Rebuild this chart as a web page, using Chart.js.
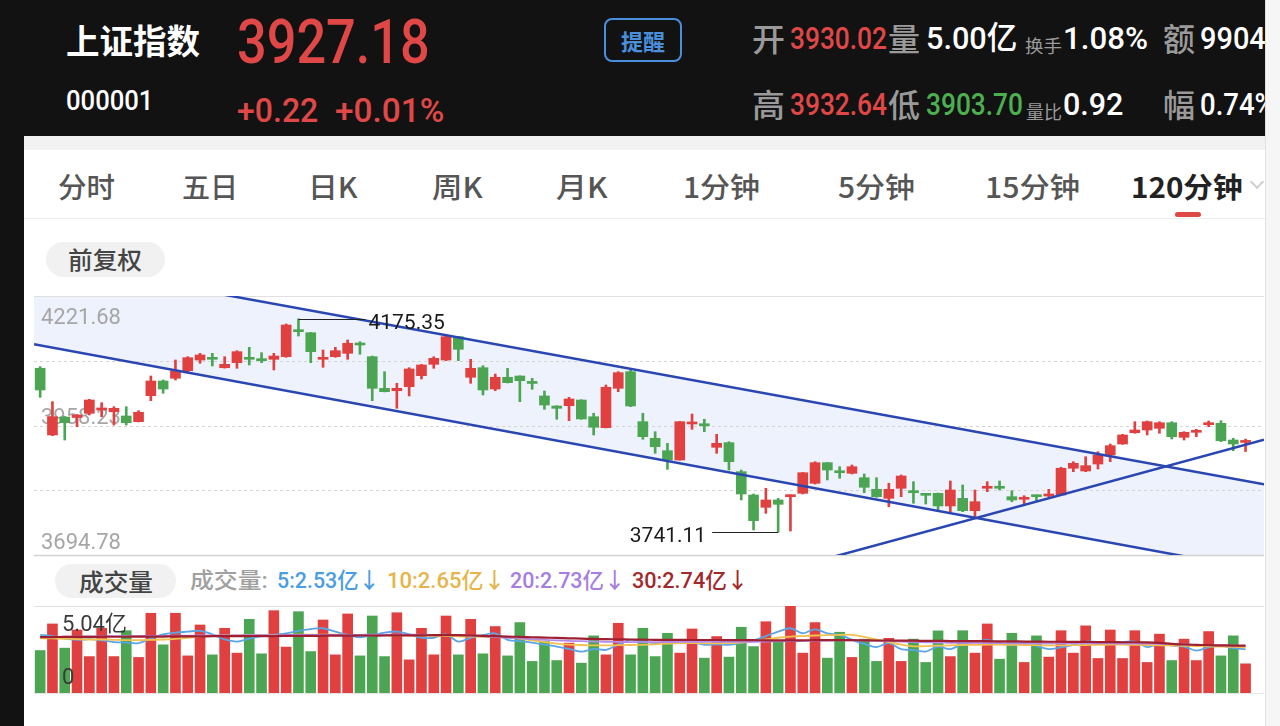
<!DOCTYPE html>
<html><head><meta charset="utf-8">
<script src="https://cdn.jsdelivr.net/npm/chart.js@4.4.1/dist/chart.umd.min.js"></script>
<style>
html,body{margin:0;padding:0;width:1280px;height:726px;overflow:hidden;background:#fff;font-family:Roboto,"Noto Sans CJK SC",sans-serif;}
.abs{position:absolute;}
.t{position:absolute;white-space:nowrap;line-height:1;transform-origin:0 50%;transform:translateY(-50%);}
.cjk{font-family:"Noto Sans CJK SC",sans-serif;}
.num{font-family:Roboto,"Noto Sans CJK SC",sans-serif;font-weight:500;}
.g{font-family:"Noto Sans CJK SC",sans-serif;font-size:32px;color:#9a9a9a;font-weight:500;}
.tab{font-family:"Noto Sans CJK SC",sans-serif;font-size:28px;color:#555;font-weight:500;}
.lg{font-family:Roboto,"Noto Sans CJK SC",sans-serif;font-size:22px;font-weight:500;}
canvas{position:absolute;}
</style></head><body>
<div class="abs" style="left:0;top:0;width:24px;height:726px;background:#121212"></div>
<div class="abs" style="left:0;top:0;width:1265px;height:136px;background:#121212;overflow:hidden">
  <div class="t cjk" style="left:66px;top:40px;font-size:34px;font-weight:700;color:#fff" data-w="134">上证指数</div>
  <div class="t num" style="left:237px;top:42px;font-size:62px;color:#E04848" data-w="193">3927.18</div>
  <div class="t num" style="left:66px;top:101px;font-size:28px;color:#fff" data-w="87">000001</div>
  <div class="t num" style="left:237px;top:110px;font-size:34px;color:#E04848" data-w="81">+0.22</div>
  <div class="t num" style="left:335px;top:110px;font-size:34px;color:#E04848" data-w="109">+0.01%</div>
  <div class="abs" style="left:604px;top:18px;width:74px;height:40px;border:2px solid #4A8FDB;border-radius:8px;"></div>
  <div class="t cjk" style="left:621px;top:40px;font-size:22px;font-weight:700;color:#4A8FDB" data-w="44">提醒</div>

  <div class="t g" style="left:752px;top:37px" data-w="33">开</div>
  <div class="t num" style="left:790px;top:38px;font-size:32px;color:#E04848" data-w="97">3930.02</div>
  <div class="t g" style="left:888px;top:37px" data-w="32">量</div>
  <div class="t num" style="left:926px;top:38px;font-size:32px;color:#fff" data-w="91">5.00亿</div>
  <div class="t cjk" style="left:1025px;top:45px;font-size:18px;color:#9a9a9a" data-w="37">换手</div>
  <div class="t num" style="left:1063px;top:38px;font-size:32px;color:#fff" data-w="85">1.08%</div>
  <div class="t g" style="left:1163px;top:37px" data-w="32">额</div>
  <div class="t num" style="left:1200px;top:38px;font-size:32px;color:#fff" data-w="66">9904</div>

  <div class="t g" style="left:752px;top:103px" data-w="33">高</div>
  <div class="t num" style="left:790px;top:104px;font-size:32px;color:#E04848" data-w="97">3932.64</div>
  <div class="t g" style="left:888px;top:103px" data-w="32">低</div>
  <div class="t num" style="left:926px;top:104px;font-size:32px;color:#4CAF50" data-w="97">3903.70</div>
  <div class="t cjk" style="left:1026px;top:111px;font-size:18px;color:#9a9a9a" data-w="36">量比</div>
  <div class="t num" style="left:1063px;top:104px;font-size:32px;color:#fff" data-w="60">0.92</div>
  <div class="t g" style="left:1163px;top:103px" data-w="32">幅</div>
  <div class="t num" style="left:1200px;top:104px;font-size:32px;color:#fff" data-s="0.86">0.74%</div>
</div>
<div class="abs" style="left:24px;top:136px;width:1241px;height:14px;background:#f2f2f2"></div>
<div class="abs" style="left:1265px;top:0;width:15px;height:726px;background:#f6f6f6;border-left:1px solid #e2e2e2"></div>
<div class="abs" style="left:24px;top:218px;width:1241px;height:1px;background:#eeeeee"></div>

<div class="t tab" style="left:58px;top:186px" data-w="57">分时</div>
<div class="t tab" style="left:182px;top:186px" data-w="56">五日</div>
<div class="t tab" style="left:308px;top:186px" data-w="50">日K</div>
<div class="t tab" style="left:432px;top:186px" data-w="51">周K</div>
<div class="t tab" style="left:556px;top:186px" data-w="52">月K</div>
<div class="t tab" style="left:683px;top:186px" data-w="77">1分钟</div>
<div class="t tab" style="left:838px;top:186px" data-w="77">5分钟</div>
<div class="t tab" style="left:985px;top:186px" data-w="95">15分钟</div>
<div class="t tab" style="left:1131px;top:186px;color:#222;font-weight:700" data-w="112">120分钟</div>
<div class="abs" style="left:1175px;top:212px;width:26px;height:5px;border-radius:3px;background:#E04848"></div>
<div class="abs" style="left:1252px;top:177px;width:8px;height:8px;border-right:2px solid #cfcfcf;border-bottom:2px solid #cfcfcf;transform:rotate(45deg)"></div>

<div class="abs" style="left:46px;top:242px;width:119px;height:35px;border-radius:18px;background:#f1f1f1"></div>
<div class="t cjk" style="left:68px;top:259px;font-size:24px;color:#444;font-weight:500" data-w="74">前复权</div>

<div class="abs" style="left:55px;top:564px;width:121px;height:34px;border-radius:17px;background:#f1f1f1"></div>
<div class="t cjk" style="left:79px;top:581px;font-size:24px;color:#444;font-weight:500" data-w="74">成交量</div>
<div class="t lg" style="left:190px;top:581px;color:#a0a0a0" data-w="78">成交量:</div>
<div class="t lg" id="lg5" style="left:277px;top:581px;color:#4A9DE0" data-w="103"></div>
<div class="t lg" id="lg10" style="left:387px;top:581px;color:#E6B54A" data-w="118"></div>
<div class="t lg" id="lg20" style="left:510px;top:581px;color:#A57EE0" data-w="115"></div>
<div class="t lg" id="lg30" style="left:632px;top:581px;color:#A3282C" data-w="116"></div>

<canvas id="pc" width="1241" height="270" style="left:24px;top:290px"></canvas>
<canvas id="vc" width="1241" height="100" style="left:24px;top:600px"></canvas>

<script>
// ---------- DATA ----------
const open = [4074.6,3938.9,3975.5,3974.5,3983.1,3989.8,3986.3,3977.6,3966.0,4018.9,
4048.8,4054.3,4069.7,4091.5,4096.2,4075.8,4086.0,4094.9,4092.9,4092.9,
4098.2,4152.5,4147.0,4092.9,4098.2,4105.1,4125.5,4098.2,4033.9,4029.0,
4037.2,4059.6,4082.7,4091.5,4138.9,4056.3,4075.8,4032.5,4056.3,4058.9,
4045.3,4018.3,3997.9,3998.5,4010.1,3976.1,3953.8,4033.9,4067.7,3966.0,
3932.2,3907.0,3888.1,3961.3,3960.7,3913.9,3923.3,3864.3,3816.9,3791.8,
3806.7,3813.4,3820.3,3840.7,3882.6,3865.7,3861.0,3852.0,3828.4,3810.1,
3830.5,3823.6,3818.3,3820.3,3794.5,3810.1,3784.9,3830.5,3832.5,3813.4,
3808.1,3815.4,3814.8,3816.9,3871.2,3865.7,3879.9,3898.2,3920.6,3943.6,
3949.1,3952.5,3963.9,3934.2,3944.4,3959.9,3962.7,3928.7,3923.8];
const close = [4030.5,3976.1,3963.9,3979.6,4010.1,3993.8,3993.2,3963.9,3985.1,4048.8,
4032.5,4069.1,4096.2,4101.7,4092.9,4082.7,4108.4,4092.9,4090.1,4099.6,
4162.7,4149.1,4108.4,4094.9,4110.4,4125.5,4122.0,4033.9,4027.0,4033.9,
4073.2,4081.3,4094.9,4138.9,4113.2,4074.6,4030.5,4056.3,4045.3,4049.4,
4043.8,3999.9,3993.2,4012.2,3971.5,3954.6,4036.0,4065.7,3997.9,3935.5,
3915.1,3888.1,3966.0,3963.9,3957.8,3922.0,3884.6,3818.9,3764.6,3806.7,
3797.9,3816.9,3862.2,3882.6,3867.7,3862.2,3874.4,3832.5,3813.4,3828.4,
3855.5,3821.5,3816.2,3794.5,3827.0,3784.9,3803.2,3832.5,3830.5,3806.7,
3810.1,3813.4,3818.9,3871.2,3881.3,3876.5,3898.2,3917.2,3938.9,3949.1,
3966.0,3963.9,3935.5,3944.4,3947.1,3962.7,3927.3,3920.6,3927.18];
const high = [4077.9,4006.7,3976.5,3980.5,4011.5,4004.6,3996.5,3996.5,3988.4,4058.9,
4050.8,4091.5,4098.2,4105.1,4105.1,4098.2,4110.4,4117.3,4106.4,4105.1,
4164.7,4175.35,4147.5,4111.8,4117.3,4132.2,4128.7,4099.6,4067.7,4044.1,
4075.8,4082.7,4098.2,4142.3,4139.5,4092.9,4079.9,4063.0,4074.6,4059.4,
4054.3,4028.4,3998.4,4015.6,4010.6,3983.1,4040.6,4067.7,4071.2,3983.1,
3945.6,3922.0,3966.5,3981.6,3970.9,3940.3,3925.3,3867.7,3818.9,3830.5,
3810.1,3817.5,3862.7,3884.6,3883.1,3874.4,3877.9,3859.6,3852.0,3840.7,
3857.5,3843.9,3818.8,3820.8,3845.3,3837.2,3827.0,3843.9,3845.3,3825.6,
3815.4,3816.9,3828.4,3873.2,3884.6,3894.8,3904.9,3920.6,3940.3,3966.0,
3967.4,3966.0,3966.0,3945.6,3950.5,3967.4,3968.0,3932.2,3930.5];
const low = [4015.6,3937.5,3928.7,3955.8,3979.6,3976.1,3959.3,3959.3,3965.5,4008.7,
4023.8,4050.8,4067.7,4084.8,4079.3,4075.0,4074.6,4081.3,4086.0,4071.2,
4097.0,4140.3,4086.0,4076.6,4097.0,4092.9,4103.1,4008.7,4026.5,3993.2,
4018.3,4052.8,4074.6,4090.1,4090.1,4044.1,4020.3,4029.0,4044.8,4006.7,
4031.9,3991.2,3970.9,3968.0,3971.0,3938.9,3953.3,4027.0,3996.5,3930.2,
3901.7,3869.1,3887.6,3950.5,3945.6,3901.7,3867.7,3806.7,3745.7,3779.6,
3741.11,3743.6,3818.9,3839.2,3847.4,3850.8,3859.6,3821.5,3812.2,3793.1,
3813.4,3800.0,3798.5,3786.3,3782.9,3782.9,3769.5,3823.6,3827.0,3803.2,
3798.5,3803.2,3813.4,3816.4,3864.3,3864.3,3869.7,3884.6,3920.0,3942.4,
3938.9,3942.4,3930.8,3928.7,3935.5,3955.8,3925.3,3907.0,3905.3];
// volume, 亿
const volume = [2.46,4.00,2.60,3.65,2.11,3.75,2.11,3.61,2.06,4.62,
2.79,4.62,2.15,3.94,2.21,3.75,2.31,4.27,2.27,4.77,
2.66,4.71,2.40,4.23,2.21,4.58,2.15,4.46,2.11,4.65,
1.92,3.75,2.21,4.46,2.21,4.27,2.27,3.85,2.15,4.08,
1.83,2.98,1.88,2.89,1.73,3.31,2.21,4.04,2.21,3.75,
2.11,3.46,2.31,3.71,2.02,3.27,2.08,3.81,2.69,4.13,
2.98,5.04,2.31,4.08,2.02,3.52,2.06,3.12,1.83,3.17,
1.83,3.12,1.77,3.60,2.11,3.61,2.31,4.00,1.96,3.46,
1.77,3.31,2.08,3.61,2.31,3.89,2.00,3.65,2.00,3.61,
1.77,3.41,1.88,3.12,1.88,3.56,2.15,3.31,1.69];
const ma5 = [3.37,3.30,3.15,3.08,3.12,3.05,2.95,2.92,2.89,3.15,
3.40,3.50,3.55,3.60,3.40,3.10,2.98,3.15,3.30,3.37,
3.45,3.60,3.70,3.75,3.55,3.35,3.23,3.35,3.50,3.56,
3.40,3.20,3.20,3.40,2.98,3.20,3.35,3.46,3.08,3.00,
2.92,2.80,2.69,2.55,2.40,2.55,2.50,2.80,3.08,2.98,
2.89,2.98,3.08,2.95,2.79,2.82,2.79,2.90,3.05,3.30,
3.55,3.75,3.46,3.69,3.45,3.37,3.08,2.85,2.66,2.89,
2.54,2.48,2.40,2.69,2.54,2.85,2.95,3.08,2.90,2.79,
2.98,2.73,2.54,2.65,2.79,2.98,2.95,2.92,2.95,2.98,
2.66,2.85,2.75,2.69,2.46,2.65,2.73,2.60,2.53];
const ma10 = [3.17,3.16,3.14,3.12,3.10,3.10,3.08,3.06,3.06,3.08,
3.10,3.14,3.20,3.28,3.32,3.33,3.34,3.35,3.36,3.36,
3.37,3.38,3.38,3.38,3.38,3.37,3.36,3.35,3.35,3.34,
3.33,3.32,3.31,3.30,3.28,3.27,3.26,3.25,3.22,3.15,
3.05,2.95,2.86,2.80,2.78,2.76,2.76,2.77,2.78,2.79,
2.82,2.86,2.89,2.89,2.88,2.88,2.89,2.92,3.00,3.10,
3.20,3.27,3.30,3.33,3.35,3.37,3.37,3.25,3.10,2.95,
2.80,2.70,2.72,2.74,2.76,2.78,2.79,2.80,2.80,2.79,
2.78,2.77,2.76,2.76,2.77,2.78,2.79,2.80,2.80,2.79,
2.78,2.76,2.75,2.73,2.72,2.70,2.69,2.67,2.65];
const ma20 = [3.25,3.25,3.26,3.27,3.28,3.28,3.29,3.30,3.30,3.31,
3.31,3.32,3.32,3.33,3.33,3.34,3.34,3.35,3.35,3.35,
3.36,3.36,3.36,3.37,3.37,3.37,3.37,3.38,3.38,3.38,
3.38,3.37,3.37,3.36,3.35,3.32,3.28,3.24,3.20,3.16,
3.12,3.08,3.05,3.02,3.00,2.98,2.97,2.96,2.95,2.95,
2.95,2.95,2.96,2.96,2.97,2.97,2.97,2.97,2.97,2.98,
2.99,3.00,3.02,3.03,3.04,3.05,3.05,3.04,3.02,3.00,
2.98,2.96,2.94,2.92,2.91,2.90,2.90,2.89,2.89,2.88,
2.88,2.88,2.87,2.87,2.87,2.87,2.87,2.87,2.86,2.86,
2.86,2.85,2.83,2.81,2.79,2.77,2.75,2.74,2.73];
const ma30 = [3.24,3.24,3.25,3.25,3.25,3.26,3.26,3.26,3.27,3.27,
3.27,3.28,3.28,3.28,3.29,3.29,3.29,3.30,3.30,3.30,
3.31,3.31,3.31,3.32,3.32,3.32,3.33,3.33,3.33,3.34,
3.34,3.34,3.35,3.35,3.35,3.33,3.31,3.29,3.27,3.25,
3.23,3.21,3.19,3.17,3.15,3.13,3.12,3.11,3.10,3.09,
3.08,3.08,3.08,3.07,3.07,3.07,3.06,3.06,3.06,3.05,
3.05,3.05,3.05,3.06,3.06,3.06,3.06,3.05,3.04,3.04,
3.03,3.03,3.02,3.02,3.01,3.01,3.00,3.00,2.99,2.99,
2.98,2.98,2.97,2.97,2.96,2.96,2.95,2.95,2.94,2.94,
2.93,2.90,2.85,2.81,2.79,2.77,2.76,2.75,2.74];
const priceGrid = [4221.68, 4089.96, 3958.23, 3826.51, 3694.78];
const priceLabels = [4221.68, 3958.23, 3694.78];
const volMax = 5.04;
// user-drawn trend lines (slot index, price)
const channelTop = [{x:-0.5, y:4294.7}, {x:99.5, y:3838.8}];
const channelBottom = [{x:-0.5, y:4123.6}, {x:99.5, y:3662.2}];
const risingLine = [{x:61.8, y:3672.8}, {x:99.5, y:3929.1}];
const slotCount = 100;
const labels = Array.from({length: slotCount}, (_, i) => i < open.length ? String(i + 1) : '');

// ---------- STYLE ----------
const RED = '#E0403F', GREEN = '#4BA553', BLUE = '#2A46B2';
const candleColors = open.map((o, i) => close[i] >= o ? RED : GREEN);
const bodies = open.map((o, i) => [o, close[i]]);
const wicks = low.map((l, i) => [l, high[i]]);

const lastOf = a => a[a.length - 1].toFixed(2);
document.getElementById('lg5').textContent = '5:' + lastOf(ma5) + '亿↓';
document.getElementById('lg10').textContent = '10:' + lastOf(ma10) + '亿↓';
document.getElementById('lg20').textContent = '20:' + lastOf(ma20) + '亿↓';
document.getElementById('lg30').textContent = '30:' + lastOf(ma30) + '亿↓';

function fit() {
  document.querySelectorAll('.t').forEach(el => {
    let s = 1;
    if (el.dataset.w) s = parseFloat(el.dataset.w) / el.offsetWidth;
    else if (el.dataset.s) s = parseFloat(el.dataset.s);
    el.style.transform = 'translateY(-50%) scaleX(' + s + ')';
  });
}
fit();
if (document.fonts && document.fonts.ready) document.fonts.ready.then(fit);

const priceDecor = {
  id: 'priceDecor',
  beforeDatasetsDraw(chart) {
    const {ctx, chartArea: a, scales: {y}} = chart;
    ctx.save();
    priceGrid.forEach((v, i) => {
      const py = Math.round(y.getPixelForValue(v)) + 0.5;
      const edge = i === 0 || i === priceGrid.length - 1;
      ctx.beginPath();
      ctx.setLineDash(edge ? [] : [3, 3]);
      ctx.strokeStyle = edge ? (i === 0 ? '#e0e0e0' : '#d2d2d2') : '#d4d4d4';
      ctx.lineWidth = edge && i !== 0 ? 1.5 : 1;
      ctx.moveTo(a.left, py); ctx.lineTo(a.right, py); ctx.stroke();
    });
    ctx.setLineDash([]);
    ctx.font = '22px Roboto';
    ctx.fillStyle = '#a6a6a6';
    ctx.textBaseline = 'middle';
    ctx.textAlign = 'left';
    const shift = [22, -7, -12];
    priceLabels.forEach((v, i) => {
      ctx.fillText(v.toFixed(2), a.left + 7, y.getPixelForValue(v) + shift[i]);
    });
    ctx.restore();
  },
  afterDatasetsDraw(chart) {
    const {ctx, scales: {x, y}} = chart;
    const hi = Math.max(...high), lo = Math.min(...low);
    const hiIdx = high.indexOf(hi), loIdx = low.indexOf(lo);
    ctx.save();
    ctx.strokeStyle = '#222'; ctx.lineWidth = 1;
    ctx.fillStyle = '#1a1a1a'; ctx.font = '21px Roboto'; ctx.textBaseline = 'middle';
    const hx = x.getPixelForValue(hiIdx), hy = Math.round(y.getPixelForValue(hi)) + 0.5;
    ctx.beginPath(); ctx.moveTo(hx, hy); ctx.lineTo(hx + 67, hy); ctx.stroke();
    ctx.textAlign = 'left';
    ctx.fillText(hi.toFixed(2), hx + 70, hy + 4);
    const lx = x.getPixelForValue(loIdx), ly = Math.round(y.getPixelForValue(lo)) + 0.5;
    ctx.beginPath(); ctx.moveTo(lx, ly); ctx.lineTo(lx - 66, ly); ctx.stroke();
    ctx.textAlign = 'right';
    ctx.fillText(lo.toFixed(2), lx - 72, ly + 4);
    ctx.restore();
  }
};

new Chart(document.getElementById('pc'), {
  type: 'bar',
  data: {
    labels,
    datasets: [
      {type: 'line', data: channelTop, xAxisID: 'xt', yAxisID: 'y', borderColor: BLUE, borderWidth: 2.5, pointRadius: 0, fill: false, order: 0},
      {type: 'line', data: channelBottom, xAxisID: 'xt', yAxisID: 'y', borderColor: BLUE, borderWidth: 2.5, pointRadius: 0, fill: '-1', backgroundColor: '#EDF2FC', order: 0},
      {type: 'line', data: risingLine, xAxisID: 'xt', yAxisID: 'y', borderColor: BLUE, borderWidth: 2.5, pointRadius: 0, fill: false, order: 0},
      {type: 'bar', data: bodies, xAxisID: 'x', yAxisID: 'y', backgroundColor: candleColors, barThickness: 10, grouped: false, minBarLength: 2, borderWidth: 0, borderSkipped: false, order: 1},
      {type: 'bar', data: wicks, xAxisID: 'x', yAxisID: 'y', backgroundColor: candleColors, barThickness: 2, grouped: false, borderWidth: 0, borderSkipped: false, order: 2}
    ]
  },
  options: {
    responsive: false, animation: false, events: [],
    layout: {padding: {left: 10, right: 1, top: 6, bottom: 5}},
    plugins: {legend: {display: false}, tooltip: {enabled: false}, filler: {drawTime: 'beforeDatasetsDraw'}},
    scales: {
      x: {type: 'category', offset: true, display: false, grid: {display: false}},
      xt: {type: 'linear', axis: 'x', min: -0.5, max: 99.5, offset: false, bounds: 'ticks', display: false, grid: {display: false, offset: false}},
      y: {type: 'linear', min: 3694.78, max: 4221.68, display: false}
    }
  },
  plugins: [priceDecor]
});

const volDecor = {
  id: 'volDecor',
  beforeDatasetsDraw(chart) {
    const {ctx, chartArea: a, scales: {y}} = chart;
    ctx.save();
    [[volMax, '#e2e2e2'], [0, '#e6e6e6']].forEach(([v, c]) => {
      const py = Math.round(y.getPixelForValue(v)) + 0.5;
      ctx.strokeStyle = c; ctx.lineWidth = 1;
      ctx.beginPath(); ctx.moveTo(a.left, py); ctx.lineTo(a.right, py); ctx.stroke();
    });
    ctx.restore();
  },
  afterDatasetsDraw(chart) {
    const {ctx, chartArea: a, scales: {y}} = chart;
    ctx.save();
    ctx.font = '22px Roboto, "Noto Sans CJK SC"';
    ctx.fillStyle = '#3a3a3a';
    ctx.textAlign = 'left'; ctx.textBaseline = 'middle';
    ctx.fillText(volMax.toFixed(2) + '亿', a.left + 28, y.getPixelForValue(volMax) + 19);
    ctx.fillText('0', a.left + 28, y.getPixelForValue(0) - 15);
    ctx.restore();
  }
};

const maLine = (data, color, w, order) => ({type: 'line', data, borderColor: color, borderWidth: w, pointRadius: 0, fill: false, tension: 0.35, order});
new Chart(document.getElementById('vc'), {
  type: 'bar',
  data: {
    labels,
    datasets: [
      maLine(ma30, '#9E1F2F', 2.2, 0),
      maLine(ma20, '#B58AE8', 1.8, 1),
      maLine(ma10, '#F2C14E', 1.8, 2),
      maLine(ma5, '#5AA5E6', 1.8, 3),
      {type: 'bar', data: volume, backgroundColor: candleColors, barThickness: 10, borderWidth: 0, order: 4}
    ]
  },
  options: {
    responsive: false, animation: false, events: [],
    layout: {padding: {left: 10, right: 1, top: 6, bottom: 7}},
    plugins: {legend: {display: false}, tooltip: {enabled: false}},
    scales: {
      x: {type: 'category', offset: true, display: false, grid: {display: false}},
      y: {type: 'linear', min: 0, max: volMax, display: false}
    }
  },
  plugins: [volDecor]
});
</script>
</body></html>
